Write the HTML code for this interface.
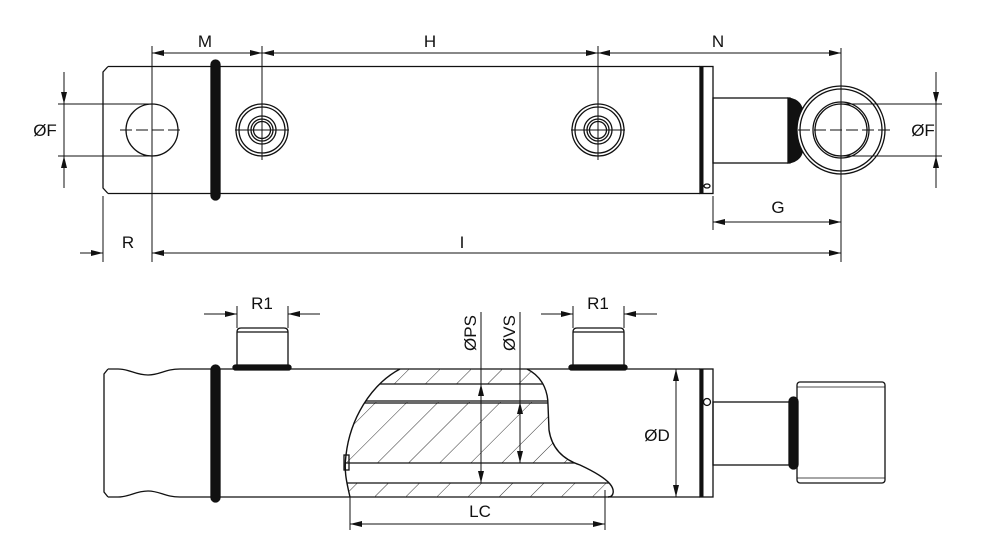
<!DOCTYPE html>
<html><head><meta charset="utf-8"><style>
html,body{margin:0;padding:0;background:#fff}
svg{display:block}
text{font-family:"Liberation Sans","DejaVu Sans",sans-serif;font-size:17px;fill:#111}
</style></head><body>
<svg width="982" height="557" viewBox="0 0 982 557" xmlns="http://www.w3.org/2000/svg">
<defs>
<marker id="a" viewBox="0 0 12 6" refX="12" refY="3" markerWidth="12" markerHeight="6" orient="auto-start-reverse" markerUnits="userSpaceOnUse"><path d="M0,0 L12,3 L0,6 z" fill="#111"/></marker>
<pattern id="h" patternUnits="userSpaceOnUse" width="22" height="22" patternTransform="rotate(45)"><line x1="0" y1="0" x2="0" y2="22" stroke="#333" stroke-width="1"/></pattern>
<clipPath id="sec"><path d="M400,369 L527,369 C545,378 548,395 548,405 L549,430 C552,450 565,460 580,465 C595,472 605,478 610,484 C615,490 614,497 608,497 L350,497 C346,480 344,470 346,455 C350,420 370,385 400,369 Z"/></clipPath>
</defs>
<g stroke="#111" fill="none" stroke-width="1.3">
<!-- TOP VIEW -->
<path d="M108,66.5 L700,66.5 M108,193.5 L700,193.5 M108,66.5 L103,72 L103,188 L108,193.5"/>
<circle cx="152" cy="130" r="26"/>
<path d="M120,130 H184 M152,100 V160" stroke-dasharray="12,4" stroke-width="1"/>
<rect x="211" y="60" width="9" height="140" rx="4.5" fill="#111"/>
<g id="port"><circle cx="262" cy="130" r="26"/><circle cx="262" cy="130" r="23"/><circle cx="262" cy="130" r="14"/><circle cx="262" cy="130" r="11"/><circle cx="262" cy="130" r="8.5"/><path d="M235,130 H289 M262,100 V160" stroke-width="1"/></g>
<use href="#port" transform="translate(336,0)"/>
<rect x="700" y="66.5" width="13" height="127"/><line x1="702" y1="66.5" x2="702" y2="193.5" stroke-width="3"/>
<ellipse cx="707" cy="186" rx="3" ry="2"/>
<rect x="713" y="98" width="77" height="65"/>
<path d="M788,98 Q803,100 803,115 L803,146 Q803,161 788,163 Z" fill="#111"/>
<circle cx="841" cy="130" r="44" fill="#fff"/><circle cx="841" cy="130" r="41"/>
<circle cx="841" cy="130" r="28"/><circle cx="841" cy="130" r="26"/>
<path d="M798,130 H893 M841,82 V180" stroke-dasharray="12,4" stroke-width="1"/>
<!-- dims top -->
<g stroke-width="1">
<path d="M152,46 V262 M262,46 V110 M598,46 V110 M841,48 V262 M103,196 V262 M713,196 V230"/>
<path d="M152,53 H262" marker-start="url(#a)" marker-end="url(#a)"/>
<path d="M262,53 H598" marker-start="url(#a)" marker-end="url(#a)"/>
<path d="M598,53 H841" marker-start="url(#a)" marker-end="url(#a)"/>
<path d="M713,222 H841" marker-start="url(#a)" marker-end="url(#a)"/>
<path d="M152,253 H841" marker-start="url(#a)" marker-end="url(#a)"/>
<path d="M80,253 H103" marker-end="url(#a)"/>
<path d="M58,104 H152 M58,156 H152 M64,72 V188"/>
<path d="M64,72 V104" marker-end="url(#a)"/><path d="M64,188 V156" marker-end="url(#a)"/>
<path d="M841,104 H942 M841,156 H942 M936,72 V188"/>
<path d="M936,72 V104" marker-end="url(#a)"/><path d="M936,188 V156" marker-end="url(#a)"/>
</g>
<!-- BOTTOM VIEW -->
<path d="M108,369 H118 C130,369 135,375 148,375 C160,375 165,369 180,369 H700 M108,497 H118 C130,497 135,491 148,491 C160,491 165,497 180,497 H700 M108,369 L104,374 V492 L108,497"/>
<rect x="211" y="365" width="9" height="137" rx="4.5" fill="#111"/>
<path d="M237,369 V332 Q237,328 241,328 H284 Q288,328 288,332 V369 M237,332 H288"/>
<rect x="233" y="365" width="58" height="5" rx="2.5" fill="#111"/>
<path d="M573,369 V332 Q573,328 577,328 H620 Q624,328 624,332 V369 M573,332 H624"/>
<rect x="569" y="365" width="58" height="5" rx="2.5" fill="#111"/>
<!-- section -->
<g clip-path="url(#sec)">
<rect x="340" y="369" width="280" height="15" fill="url(#h)" stroke="none"/>
<rect x="340" y="402" width="280" height="61" fill="url(#h)" stroke="none"/>
<rect x="340" y="483" width="280" height="14" fill="url(#h)" stroke="none"/>
<path d="M340,384 H620 M340,401 H620 M340,403 H620 M340,463 H620 M340,483 H620" stroke-width="1.2"/>
</g>
<path d="M400,369 C370,385 350,420 346,455 C344,470 346,480 350,497 M527,369 C545,378 548,395 548,405 L549,430 C552,450 565,460 580,465 C595,472 605,478 610,484 C615,490 614,497 608,497" stroke-width="1.4"/>
<rect x="344" y="455" width="5" height="15"/>
<rect x="700" y="369" width="13" height="128"/><line x1="702" y1="369" x2="702" y2="497" stroke-width="3"/>
<circle cx="707" cy="402" r="3.5" fill="#fff"/>
<rect x="713" y="402" width="77" height="63"/>
<rect x="789" y="397" width="9" height="72" rx="4.5" fill="#111"/>
<rect x="797" y="382" width="88" height="101" rx="3"/>
<line x1="797" y1="387" x2="885" y2="387" stroke-width="0.8"/><line x1="797" y1="478" x2="885" y2="478" stroke-width="0.8"/>
<!-- dims bottom -->
<g stroke-width="1">
<path d="M237,306 V328 M288,306 V328 M573,306 V328 M624,306 V328"/>
<path d="M204,314 H237" marker-end="url(#a)"/><path d="M320,314 H288" marker-end="url(#a)"/>
<path d="M541,314 H573" marker-end="url(#a)"/><path d="M657,314 H624" marker-end="url(#a)"/>
<path d="M481,312 V384"/><path d="M481,384 V483" marker-start="url(#a)" marker-end="url(#a)"/>
<path d="M520,312 V402"/><path d="M520,402 V463" marker-start="url(#a)" marker-end="url(#a)"/>
<path d="M676,369 V497" marker-start="url(#a)" marker-end="url(#a)"/>
<path d="M350,497 V530 M605,490 V530"/>
<path d="M350,524 H605" marker-start="url(#a)" marker-end="url(#a)"/>
</g>
</g>
<text x="205" y="47" text-anchor="middle">M</text>
<text x="430" y="47" text-anchor="middle">H</text>
<text x="718" y="47" text-anchor="middle">N</text>
<text x="778" y="213" text-anchor="middle">G</text>
<text x="128" y="248" text-anchor="middle">R</text>
<text x="462" y="248" text-anchor="middle">I</text>
<text x="45" y="136" text-anchor="middle">ØF</text>
<text x="923" y="136" text-anchor="middle">ØF</text>
<text x="262" y="309" text-anchor="middle">R1</text>
<text x="598" y="309" text-anchor="middle">R1</text>
<text transform="translate(476,333) rotate(-90)" text-anchor="middle">ØPS</text>
<text transform="translate(515,333) rotate(-90)" text-anchor="middle">ØVS</text>
<text x="657" y="441" text-anchor="middle">ØD</text>
<text x="480" y="517" text-anchor="middle">LC</text>
</svg>
</body></html>
